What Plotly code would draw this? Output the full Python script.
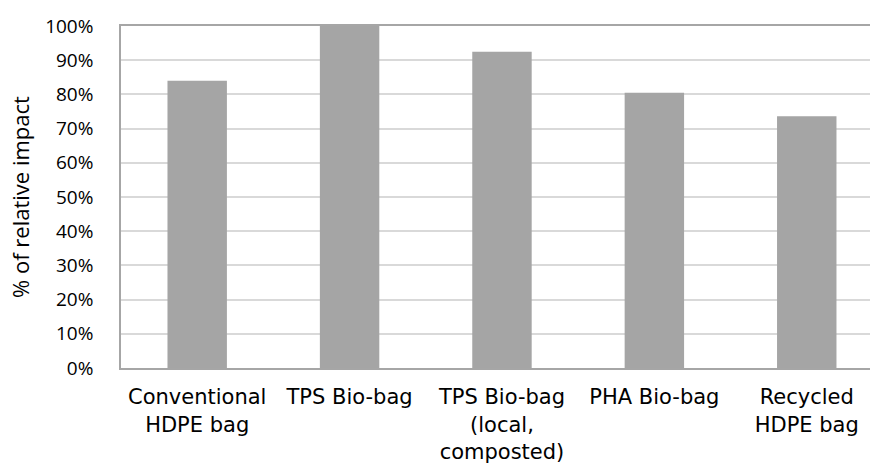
import plotly.graph_objects as go

categories = ["Conventional<br>HDPE bag", "TPS Bio-bag", "TPS Bio-bag<br>(local,<br>composted)",
              "PHA Bio-bag", "Recycled<br>HDPE bag"]
values = [0.84, 1.00, 0.925, 0.805, 0.736]
y_ticks = [i / 10 for i in range(11)]
y_title = "% of relative impact"

fig = go.Figure(go.Bar(x=list(range(len(categories))), y=values, marker_color="#a5a5a5",
                       marker_line_width=0, width=0.39))

fig.update_layout(
    width=870, height=464,
    margin=dict(l=121, r=0, t=26, b=96),
    plot_bgcolor="white", paper_bgcolor="white",
    showlegend=False,
    font=dict(family="Open Sans", color="#000000"),
)
fig.update_xaxes(
    tickmode="array", tickvals=list(range(len(categories))), ticktext=categories,
    range=[-0.5, 4.415], showgrid=False,
    showline=True, linecolor="#a6a6a6", linewidth=2, mirror=True,
    tickfont=dict(family="DejaVu Sans", size=21), ticks="", ticklabelstandoff=9,
)
fig.update_yaxes(
    range=[0, 1], tickvals=y_ticks, tickformat=".0%",
    showgrid=True, gridcolor="#d9d9d9", gridwidth=1.5,
    showline=True, linecolor="#a6a6a6", linewidth=1.5,
    tickfont=dict(family="Open Sans", size=19), ticks="", ticklabelstandoff=22,
    title=dict(text=y_title, font=dict(family="Open Sans", size=22), standoff=9),
    zeroline=False,
)
fig.write_html("out.html")
